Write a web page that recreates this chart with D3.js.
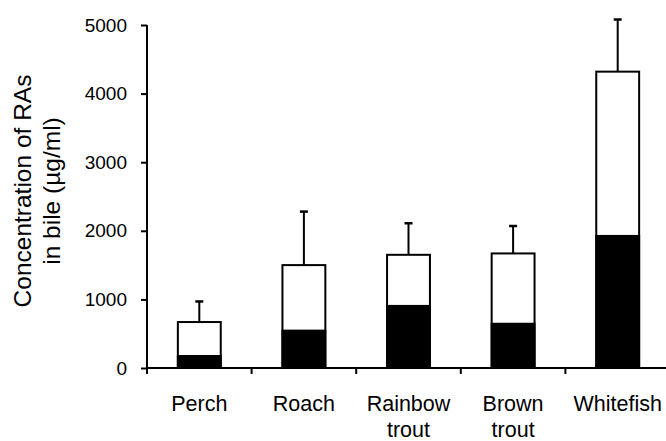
<!DOCTYPE html>
<html><head><meta charset="utf-8">
<script src="https://cdn.jsdelivr.net/npm/d3@7"></script>
<style>body{margin:0;background:#fff}svg{display:block}text{font-family:"Liberation Sans",Arial,sans-serif;fill:#000}</style>
</head><body><svg id="c" width="666" height="441"></svg>
<script>
const categories = [["Perch"],["Roach"],["Rainbow","trout"],["Brown","trout"],["Whitefish"]];
const blackValues = [175, 545, 905, 645, 1925];
const totalValues = [670, 1500, 1650, 1670, 4320];
const errorTop = [970, 2280, 2110, 2070, 5080];
const yTicks = [0,1000,2000,3000,4000,5000];

const svg = d3.select("#c");
const x = d3.scaleBand().domain(d3.range(categories.length)).range([147, 670]).paddingInner(0).paddingOuter(0);
const y = d3.scaleLinear().domain([0,5000]).range([368, 25]);
const bw = x.bandwidth()*0.41;
const cx = i => x(i)+x.bandwidth()/2;

const g = svg.append("g");
categories.forEach((c,i)=>{
  g.append("line").attr("x1",cx(i)).attr("x2",cx(i)).attr("y1",y(totalValues[i])).attr("y2",y(errorTop[i])).attr("stroke","#000").attr("stroke-width",2);
  g.append("line").attr("x1",cx(i)-4).attr("x2",cx(i)+4).attr("y1",y(errorTop[i])).attr("y2",y(errorTop[i])).attr("stroke","#000").attr("stroke-width",2.5);
  g.append("rect").attr("x",cx(i)-bw/2).attr("width",bw).attr("y",y(totalValues[i])).attr("height",y(0)-y(totalValues[i]))
    .attr("fill","#fff").attr("stroke","#000").attr("stroke-width",2);
  g.append("rect").attr("x",cx(i)-bw/2).attr("width",bw).attr("y",y(blackValues[i])).attr("height",y(0)-y(blackValues[i]))
    .attr("fill","#000").attr("stroke","#000").attr("stroke-width",2);
});

// y axis
const ya = svg.append("g").attr("transform","translate(147,0)")
  .call(d3.axisLeft(y).tickValues(yTicks).tickSize(6).tickPadding(14).tickFormat(d3.format("d")));
ya.select(".domain").remove();
ya.selectAll(".tick line").attr("stroke-width",2);
ya.selectAll("text").style("font-size","19px").style("font-family","Liberation Sans, Arial, sans-serif");
svg.append("line").attr("x1",147).attr("x2",147).attr("y1",y(5000)).attr("y2",y(0)+6).attr("stroke","#000").attr("stroke-width",2);

// x axis
svg.append("line").attr("x1",146).attr("x2",670).attr("y1",y(0)).attr("y2",y(0)).attr("stroke","#000").attr("stroke-width",2);
d3.range(1,categories.length).forEach(i=>{
  svg.append("line").attr("x1",x(i)).attr("x2",x(i)).attr("y1",y(0)).attr("y2",y(0)+6).attr("stroke","#000").attr("stroke-width",2);
});
categories.forEach((c,i)=>{
  const t = svg.append("text").attr("text-anchor","middle").style("font-size","21.5px").attr("x",cx(i)).attr("y",411);
  c.forEach((line,j)=>t.append("tspan").attr("x",cx(i)).attr("dy", j===0?0:26).text(line));
});

// y label
const yl = svg.append("text").attr("text-anchor","middle").style("font-size","24.5px").attr("transform","translate(31,191) rotate(-90)");
yl.append("tspan").attr("x",0).attr("dy",0).text("Concentration of RAs");
yl.append("tspan").attr("x",0).attr("dy",29).text("in bile (µg/ml)");
</script></body></html>
